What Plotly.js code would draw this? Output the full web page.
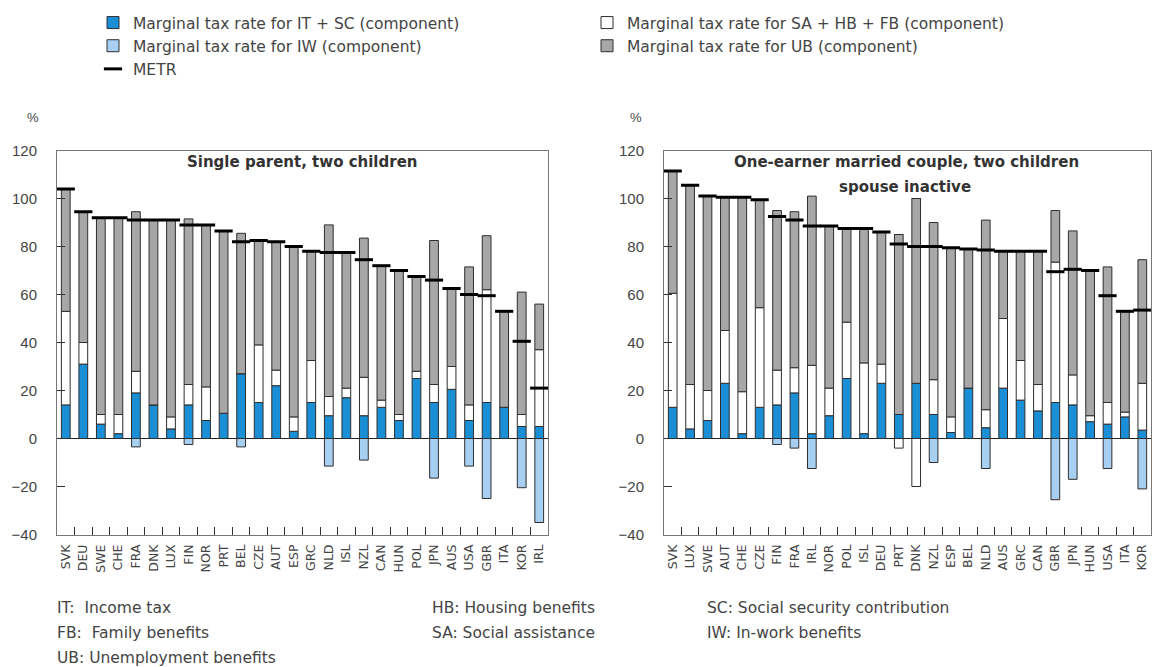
<!DOCTYPE html>
<html>
<head>
<meta charset="utf-8">
<script src="https://cdn.plot.ly/plotly-3.0.1.min.js"></script>
<style>
html,body{margin:0;padding:0;background:#fff}
#chart{width:1153px;height:667px}
</style>
</head>
<body>
<div id="chart"></div>
<script>
// ---- Left panel: Single parent, two children ----
const leftCountries = ["SVK","DEU","SWE","CHE","FRA","DNK","LUX","FIN","NOR","PRT","BEL","CZE","AUT","ESP","GRC","NLD","ISL","NZL","CAN","HUN","POL","JPN","AUS","USA","GBR","ITA","KOR","IRL"];
const leftITSC  = [14, 31, 6, 2, 19, 14, 4, 14, 7.5, 10.5, 27, 15, 22, 3, 15, 9.5, 17, 9.5, 13, 7.5, 25, 15, 20.5, 7.5, 15, 13, 5, 5];
const leftSAHBFB= [39, 9, 4, 8, 9, 0, 5, 8.5, 14, 0, 0, 24, 6.5, 6, 17.5, 8, 4, 16, 3, 2.5, 3, 7.5, 9.5, 6.5, 47, 0, 5, 32];
const leftUB    = [51, 54.5, 82, 82, 66.5, 77, 82, 69, 67.5, 76, 58.5, 43.5, 53.5, 71, 45.5, 71.5, 56.5, 58, 56, 60, 39.5, 60, 32.5, 57.5, 22.5, 40, 51, 19];
const leftIW    = [0, 0, 0, 0, -3.5, 0, 0, -2.5, 0, 0, -3.5, 0, 0, 0, 0, -11.5, 0, -9, 0, 0, 0, -16.5, 0, -11.5, -25, 0, -20.5, -35];
const leftMETR  = [104, 94.5, 92, 92, 91, 91, 91, 89, 89, 86.5, 82, 82.5, 82, 80, 78, 77.5, 77.5, 74.5, 72, 70, 67.5, 66, 62.5, 60, 59.5, 53, 40.5, 21];

// ---- Right panel: One-earner married couple, two children, spouse inactive ----
const rightCountries = ["SVK","LUX","SWE","AUT","CHE","CZE","FIN","FRA","IRL","NOR","POL","ISL","DEU","PRT","DNK","NZL","ESP","BEL","NLD","AUS","GRC","CAN","GBR","JPN","HUN","USA","ITA","KOR"];
const rightITSC  = [13, 4, 7.5, 23, 2, 13, 14, 19, 2, 9.5, 25, 2, 23, 10, 23, 10, 2.5, 21, 4.5, 21, 16, 11.5, 15, 14, 7, 6, 9, 3.5];
const rightSAHBFB= [47.5, 18.5, 12.5, 22, 17.5, 41.5, 14.5, 10.5, 28.5, 11.5, 23.5, 29.5, 8, -4, -20, 14.5, 6.5, 0, 7.5, 29, 16.5, 11, 58.5, 12.5, 2.5, 9, 2, 19.5];
const rightUB    = [51, 83, 81, 55.5, 81, 45, 66.5, 65, 70.5, 67.5, 39, 56, 55, 75, 77, 65.5, 70.5, 58, 79, 28, 45.5, 55.5, 21.5, 60, 60.5, 56.5, 42, 51.5];
const rightIW    = [0, 0, 0, 0, 0, 0, -2.5, -4, -12.5, 0, 0, 0, 0, 0, 0, -10, 0, 0, -12.5, 0, 0, 0, -25.5, -17, 0, -12.5, 0, -21];
const rightMETR  = [111.5, 105.5, 101, 100.5, 100.5, 99.5, 92.5, 91, 88.5, 88.5, 87.5, 87.5, 86, 81, 80, 80, 79.5, 79, 78.5, 78, 78, 78, 69.5, 70.5, 70, 59.5, 53, 53.5];

const seriesNames = {
  itsc: "Marginal tax rate for IT + SC (component)",
  sa:   "Marginal tax rate for SA + HB + FB (component)",
  iw:   "Marginal tax rate for IW (component)",
  ub:   "Marginal tax rate for UB (component)",
  metr: "METR"
};
const colors = {itsc:"#1b8fd6", sa:"#ffffff", iw:"#a6cff2", ub:"#a7a7a7", outline:"#2e2e2e"};

function barTrace(x, y, key, xa, ya, show, legend) {
  return {
    type: "bar", x: x, y: y, name: seriesNames[key], xaxis: xa, yaxis: ya,
    marker: {color: colors[key], line: {color: colors.outline, width: 1}},
    width: 0.5, showlegend: show, legend: legend, hoverinfo: "x+y+name"
  };
}
function metrTrace(x, y, xa, ya, show) {
  return {
    type: "scatter", mode: "markers", x: x, y: y, name: seriesNames.metr,
    xaxis: xa, yaxis: ya, showlegend: show, legend: "legend",
    marker: {symbol: "line-ew", size: 13, color: "#000", line: {color: "#000", width: 3}}
  };
}

const data = [
  barTrace(leftCountries, leftITSC, "itsc", "x", "y", true, "legend"),
  barTrace(leftCountries, leftSAHBFB, "sa", "x", "y", true, "legend2"),
  barTrace(leftCountries, leftUB, "ub", "x", "y", true, "legend2"),
  barTrace(leftCountries, leftIW, "iw", "x", "y", true, "legend"),
  metrTrace(leftCountries, leftMETR, "x", "y", true),
  barTrace(rightCountries, rightITSC, "itsc", "x2", "y2", false, "legend"),
  barTrace(rightCountries, rightSAHBFB, "sa", "x2", "y2", false, "legend2"),
  barTrace(rightCountries, rightUB, "ub", "x2", "y2", false, "legend2"),
  barTrace(rightCountries, rightIW, "iw", "x2", "y2", false, "legend"),
  metrTrace(rightCountries, rightMETR, "x2", "y2", false)
];

const W = 1153, H = 667;
const FONT = "Liberation Sans, Arial, sans-serif";
const WIDE = "DejaVu Sans, Verdana, sans-serif";
const txt = "#444";
const yTop = 150.5, yBot = 534.5;
const yDom = [(H - yBot) / H, (H - yTop) / H];

function xAxis(domain, anchor, n) {
  return {
    domain: domain, anchor: anchor, type: "category", range: [-0.5, n - 0.5],
    tickmode: "linear", dtick: 1,
    tickson: "boundaries", ticks: "inside", ticklen: 8, tickcolor: "#333", tickwidth: 1,
    tickangle: -90, tickfont: {family: WIDE, size: 12.5, color: txt},
    showline: true, linecolor: "#777", linewidth: 1, mirror: true,
    showgrid: false, zeroline: false, fixedrange: true, ticklabelstandoff: 4, automargin: false
  };
}
function yAxis(anchor) {
  return {
    domain: yDom, anchor: anchor, range: [-40, 120], dtick: 20,
    ticks: "inside", ticklen: 8, tickcolor: "#333", tickwidth: 1,
    tickfont: {family: FONT, size: 15, color: txt},
    showline: true, linecolor: "#777", linewidth: 1, mirror: true,
    showgrid: false, zeroline: true, zerolinecolor: "#222", zerolinewidth: 1,
    fixedrange: true, ticklabelstandoff: 16, automargin: false
  };
}

const ann = (x, y, text, opts) => Object.assign({
  xref: "paper", yref: "paper", x: x / W, y: 1 - y / H, text: text, showarrow: false,
  xanchor: "left", yanchor: "middle", font: {family: WIDE, size: 15.5, color: txt}
}, opts || {});
const titleFont = {family: WIDE, size: 15, color: "#333"};

const legendBase = {
  xref: "paper", yref: "paper", xanchor: "left", yanchor: "top", orientation: "v",
  traceorder: "normal", bgcolor: "rgba(0,0,0,0)", borderwidth: 0, tracegroupgap: 0,
  font: {family: WIDE, size: 15.5, color: txt}
};

const layout = {
  width: W, height: H,
  margin: {l: 0, r: 0, t: 0, b: 0, pad: 0, autoexpand: false},
  paper_bgcolor: "#fff", plot_bgcolor: "#fff",
  barmode: "relative", bargap: 0.5,
  font: {family: FONT, color: txt},
  xaxis: xAxis([57 / W, 548 / W], "y", leftCountries.length),
  yaxis: yAxis("x"),
  xaxis2: xAxis([664 / W, 1151 / W], "y2", rightCountries.length),
  yaxis2: yAxis("x2"),
  legend: Object.assign({}, legendBase, {x: 93 / W, y: 1 - 6 / H}),
  legend2: Object.assign({}, legendBase, {x: 587 / W, y: 1 - 6 / H}),
  annotations: [
    ann(302, 162, "<b>Single parent, two children</b>", {xanchor: "center", font: titleFont}),
    ann(906, 162, "<b>One-earner married couple, two children</b>", {xanchor: "center", font: titleFont}),
    ann(905, 187, "<b>spouse inactive</b>", {xanchor: "center", font: titleFont}),
    ann(25, 118, "%", {font: {family: FONT, size: 13, color: txt}}),
    ann(628, 118, "%", {font: {family: FONT, size: 13, color: txt}}),
    ann(55, 608, "IT:  Income tax"),
    ann(55, 633, "FB:  Family benefits"),
    ann(55, 658, "UB: Unemployment benefits"),
    ann(430, 608, "HB: Housing benefits"),
    ann(430, 633, "SA: Social assistance"),
    ann(705, 608, "SC: Social security contribution"),
    ann(705, 633, "IW: In-work benefits")
  ]
};

Plotly.newPlot("chart", data, layout, {displayModeBar: false, staticPlot: true});
</script>
</body>
</html>
